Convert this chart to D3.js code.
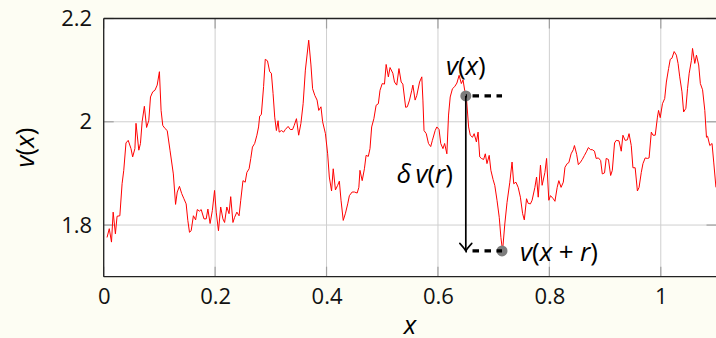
<!DOCTYPE html>
<html>
<head>
<meta charset="utf-8">
<script src="https://cdn.jsdelivr.net/npm/d3@7"></script>
<style>
  html, body { margin: 0; padding: 0; background: #fdfdf3; }
  svg { display: block; }
</style>
</head>
<body>
<div id="chart"></div>
<script>
// signal v(x)
const xValues = [
  0.006, 0.010, 0.014, 0.017, 0.021, 0.024, 0.029, 0.033, 0.036, 0.040, 0.044, 0.049, 0.052, 0.056, 0.058, 0.063,
  0.066, 0.069, 0.073, 0.077, 0.081, 0.084, 0.088, 0.092, 0.096, 0.100, 0.103, 0.106, 0.110, 0.114, 0.119, 0.125,
  0.129, 0.132, 0.136, 0.140, 0.144, 0.148, 0.151, 0.154, 0.157, 0.161, 0.165, 0.168, 0.172, 0.175,
  0.180, 0.184, 0.187, 0.191, 0.195, 0.199, 0.202, 0.206, 0.210, 0.214, 0.217, 0.221, 0.225, 0.228, 0.232, 0.235,
  0.239, 0.243, 0.246, 0.250, 0.254, 0.257, 0.261, 0.264, 0.267, 0.271, 0.275, 0.278, 0.280, 0.283, 0.287, 0.290,
  0.294, 0.298, 0.301, 0.304, 0.307, 0.310, 0.313, 0.315, 0.319, 0.323, 0.326, 0.331, 0.335, 0.339, 0.342, 0.346,
  0.350, 0.354, 0.358,
  0.362, 0.368, 0.372, 0.375, 0.379, 0.383, 0.386, 0.390, 0.393, 0.398, 0.402, 0.405, 0.409, 0.412, 0.416, 0.420,
  0.423, 0.426, 0.430, 0.434, 0.438, 0.441, 0.446, 0.450, 0.455, 0.458, 0.460, 0.464, 0.468, 0.471, 0.475, 0.478,
  0.481, 0.485, 0.489, 0.493, 0.496, 0.500, 0.504, 0.507, 0.511, 0.514, 0.519, 0.522, 0.526, 0.530, 0.534, 0.537,
  0.542, 0.545, 0.549, 0.553, 0.555, 0.559, 0.562, 0.567, 0.571, 0.573, 0.575, 0.579, 0.583, 0.587, 0.590, 0.595,
  0.598, 0.602, 0.605, 0.609, 0.612, 0.616, 0.619, 0.622, 0.626, 0.630, 0.634, 0.638, 0.642, 0.645, 0.648, 0.651,
  0.655, 0.658, 0.662, 0.665, 0.669, 0.672, 0.675, 0.678, 0.682, 0.685, 0.688, 0.692, 0.695, 0.699, 0.702, 0.706,
  0.710, 0.713, 0.716,
  0.720, 0.724, 0.729, 0.733, 0.736, 0.740, 0.744, 0.748, 0.752, 0.755, 0.759, 0.762, 0.766, 0.769, 0.774, 0.777,
  0.780, 0.784, 0.787, 0.792, 0.795, 0.799, 0.802, 0.807, 0.810, 0.814, 0.817, 0.821, 0.825, 0.828, 0.832, 0.835,
  0.839, 0.843, 0.845, 0.849, 0.852, 0.856, 0.859, 0.863, 0.867, 0.870, 0.874, 0.877, 0.881, 0.884, 0.888, 0.892,
  0.895, 0.899, 0.902, 0.906, 0.910, 0.913, 0.917, 0.920, 0.925, 0.929, 0.932, 0.936, 0.940, 0.943, 0.947, 0.950,
  0.954, 0.958, 0.961, 0.965, 0.968, 0.972, 0.976, 0.979, 0.983, 0.986, 0.990, 0.994, 0.996, 0.999, 1.003, 1.007,
  1.010, 1.014, 1.017, 1.020, 1.024, 1.028, 1.031, 1.034, 1.038, 1.041, 1.045, 1.048, 1.051, 1.055, 1.057, 1.061,
  1.064, 1.068, 1.071, 1.075, 1.079, 1.082, 1.084, 1.088, 1.092, 1.095, 1.099
];
const vValues = [
  1.776, 1.793, 1.767, 1.825, 1.783, 1.817, 1.818, 1.880, 1.906, 1.959, 1.964, 1.948, 1.932, 1.948, 1.997, 1.945,
  1.958, 2.000, 2.030, 1.989, 2.003, 2.048, 2.058, 2.061, 2.071, 2.097, 2.022, 1.993, 1.987, 1.983, 1.945, 1.899,
  1.840, 1.864, 1.875, 1.861, 1.851, 1.841, 1.809, 1.786, 1.789, 1.818, 1.810, 1.830, 1.827, 1.830,
  1.812, 1.812, 1.831, 1.803, 1.828, 1.867, 1.825, 1.789, 1.835, 1.812, 1.805, 1.835, 1.822, 1.855, 1.805, 1.815,
  1.825, 1.818, 1.848, 1.886, 1.883, 1.902, 1.909, 1.929, 1.951, 1.958, 1.974, 1.990, 2.011, 2.014, 2.068, 2.121,
  2.118, 2.097, 2.094, 2.055, 2.009, 1.983, 2.002, 1.980, 1.983, 1.980, 1.985, 1.991, 1.985, 1.985, 1.993, 2.006,
  1.974, 1.997, 2.035,
  2.100, 2.158, 2.110, 2.064, 2.051, 2.042, 2.022, 2.029, 2.000, 1.977, 1.938, 1.893, 1.866, 1.909, 1.868, 1.877,
  1.885, 1.848, 1.809, 1.823, 1.841, 1.857, 1.864, 1.864, 1.862, 1.873, 1.906, 1.886, 1.909, 1.935, 1.933, 1.948,
  1.990, 2.006, 2.032, 2.035, 2.061, 2.074, 2.073, 2.111, 2.087, 2.105, 2.094, 2.077, 2.071, 2.103, 2.077, 2.073,
  2.028, 2.029, 2.042, 2.061, 2.071, 2.042, 2.051, 2.077, 2.087, 2.042, 1.983, 1.977, 1.958, 1.952, 1.964, 1.983,
  1.990, 1.985, 1.958, 1.948, 1.958, 1.938, 2.013, 2.048, 2.064, 2.068, 2.075, 2.090, 2.074, 2.081, 2.061, 2.048,
  1.990, 1.974, 1.970, 1.977, 1.961, 1.980, 1.932, 1.929, 1.927, 1.938, 1.919, 1.935, 1.906, 1.888, 1.877, 1.848,
  1.815, 1.776, 1.750,
  1.802, 1.844, 1.883, 1.922, 1.880, 1.883, 1.873, 1.854, 1.822, 1.810, 1.851, 1.842, 1.841, 1.848, 1.873, 1.893,
  1.854, 1.916, 1.877, 1.902, 1.929, 1.848, 1.857, 1.851, 1.846, 1.873, 1.886, 1.873, 1.883, 1.912, 1.919, 1.921,
  1.938, 1.946, 1.954, 1.937, 1.917, 1.922, 1.927, 1.935, 1.943, 1.950, 1.946, 1.946, 1.943, 1.929, 1.930, 1.925,
  1.899, 1.901, 1.929, 1.927, 1.896, 1.906, 1.959, 1.964, 1.963, 1.943, 1.974, 1.964, 1.965, 1.977, 1.954, 1.911,
  1.911, 1.866, 1.873, 1.902, 1.919, 1.930, 1.929, 1.930, 1.980, 1.974, 1.974, 2.009, 2.022, 2.008, 2.035, 2.045,
  2.077, 2.103, 2.121, 2.123, 2.136, 2.129, 2.113, 2.087, 2.058, 2.019, 2.026, 2.064, 2.094, 2.119, 2.142, 2.113,
  2.129, 2.110, 2.074, 2.062, 2.022, 1.970, 1.972, 1.954, 1.958, 1.922, 1.873
];
const xTicks = [0, 0.2, 0.4, 0.6, 0.8, 1];
const xTickLabels = ["0", "0.2", "0.4", "0.6", "0.8", "1"];
const yTicks = [1.8, 2, 2.2];
const yTickLabels = ["1.8", "2", "2.2"];
// les deux points v(x) et v(x+r)
const pointX = [0.65, 0.715];
const pointV = [2.05, 1.75];

const data = xValues.map((d, i) => ({ x: d, v: vValues[i] }));

// dimensions
const width = 716, height = 338;
const plotLeft = 103.7, plotRight = 716.5, plotTop = 18.5, plotBottom = 276.7;
const font = "'Open Sans', sans-serif";

const x = d3.scaleLinear().domain([0, 1.1]).range([plotLeft, plotRight]);
const y = d3.scaleLinear().domain([1.7, 2.2]).range([plotBottom, plotTop]);

const svg = d3.select("#chart").append("svg")
    .attr("width", width)
    .attr("height", height);

svg.append("rect").attr("width", width).attr("height", height).attr("fill", "#fdfdf3");
svg.append("rect")
    .attr("x", plotLeft).attr("y", plotTop)
    .attr("width", plotRight - plotLeft).attr("height", plotBottom - plotTop)
    .attr("fill", "white");

svg.append("clipPath").attr("id", "clip")
    .append("rect")
    .attr("x", plotLeft).attr("y", plotTop)
    .attr("width", plotRight - plotLeft).attr("height", plotBottom - plotTop);

// grille
const grid = svg.append("g");
grid.selectAll(".gx").data(xTicks).enter().append("line")
    .attr("x1", d => x(d)).attr("x2", d => x(d))
    .attr("y1", plotTop).attr("y2", plotBottom)
    .attr("stroke", "#cfcfcf").attr("stroke-width", 1);
grid.selectAll(".gy").data(yTicks).enter().append("line")
    .attr("x1", plotLeft).attr("x2", plotRight)
    .attr("y1", d => y(d)).attr("y2", d => y(d))
    .attr("stroke", "#cfcfcf").attr("stroke-width", 1);

// petites graduations vers l'intérieur
const tickLen = 10;
xTicks.forEach(d => {
    grid.append("line").attr("x1", x(d)).attr("x2", x(d)).attr("y1", plotBottom).attr("y2", plotBottom - tickLen)
        .attr("stroke", "#a0a0a0").attr("stroke-width", 1.2);
    grid.append("line").attr("x1", x(d)).attr("x2", x(d)).attr("y1", plotTop).attr("y2", plotTop + tickLen)
        .attr("stroke", "#a0a0a0").attr("stroke-width", 1.2);
});
yTicks.forEach(d => {
    grid.append("line").attr("x1", plotLeft).attr("x2", plotLeft + tickLen).attr("y1", y(d)).attr("y2", y(d))
        .attr("stroke", "#a0a0a0").attr("stroke-width", 1.2);
    grid.append("line").attr("x1", plotRight).attr("x2", plotRight - tickLen).attr("y1", y(d)).attr("y2", y(d))
        .attr("stroke", "#a0a0a0").attr("stroke-width", 1.2);
});

// courbe
const line = d3.line().x(d => x(d.x)).y(d => y(d.v));
svg.append("path")
    .datum(data)
    .attr("clip-path", "url(#clip)")
    .attr("d", line)
    .attr("fill", "none")
    .attr("stroke", "#ff0000")
    .attr("stroke-width", 1)
    .attr("stroke-linejoin", "round");

// axes
const xAxis = svg.append("g")
    .attr("transform", "translate(0," + plotBottom + ")")
    .call(d3.axisBottom(x).tickValues(xTicks).tickFormat((d, i) => xTickLabels[i]).tickSize(0).tickPadding(11.5));
const yAxis = svg.append("g")
    .attr("transform", "translate(" + plotLeft + ",0)")
    .call(d3.axisLeft(y).tickValues(yTicks).tickFormat((d, i) => yTickLabels[i]).tickSize(0).tickPadding(11.5));
[xAxis, yAxis].forEach(a => {
    a.select(".domain").remove();
    a.selectAll("text").style("font-family", font).style("font-size", "22px").attr("fill", "#111");
});

// cadre
const frame = svg.append("g").attr("stroke", "#222").attr("stroke-width", 1.3);
frame.append("line").attr("x1", plotLeft).attr("x2", width).attr("y1", plotTop).attr("y2", plotTop);
frame.append("line").attr("x1", plotLeft).attr("x2", width).attr("y1", plotBottom).attr("y2", plotBottom);
frame.append("line").attr("x1", plotLeft).attr("x2", plotLeft).attr("y1", plotTop).attr("y2", plotBottom);

// titres des axes
svg.append("text")
    .attr("x", (plotLeft + plotRight) / 2).attr("y", 334)
    .attr("text-anchor", "middle")
    .style("font-family", font).style("font-size", "26px").style("font-style", "italic")
    .text("x");
const yLabel = svg.append("text")
    .attr("transform", "translate(34," + (plotTop + plotBottom) / 2 + ") rotate(-90)")
    .attr("text-anchor", "middle")
    .style("font-family", font).style("font-size", "26px");
yLabel.append("tspan").style("font-style", "italic").text("v");
yLabel.append("tspan").text("(");
yLabel.append("tspan").style("font-style", "italic").text("x");
yLabel.append("tspan").text(")");

// annotation : points, pointillés, flèche
const px1 = x(pointX[0]), py1 = y(pointV[0]);
const px2 = x(pointX[1]), py2 = y(pointV[1]);

svg.selectAll(".pt").data(pointX).enter().append("circle")
    .attr("cx", (d, i) => x(d))
    .attr("cy", (d, i) => y(pointV[i]))
    .attr("r", 5.5)
    .attr("fill", "#7d7d7d");

pointV.forEach(v => {
    svg.append("line")
        .attr("x1", px1).attr("x2", px2)
        .attr("y1", y(v)).attr("y2", y(v))
        .attr("stroke", "black").attr("stroke-width", 3.2)
        .attr("stroke-dasharray", "6.5,5.5").attr("stroke-dashoffset", 5.3);
});

svg.append("line")
    .attr("x1", px1).attr("x2", px1)
    .attr("y1", py1).attr("y2", py2 - 0.5)
    .attr("stroke", "black").attr("stroke-width", 1.7);
svg.append("path")
    .attr("d", "M" + (px1 - 6) + "," + (py2 - 7.5) + " Q" + (px1 - 1) + "," + (py2 - 2) + " " + px1 + "," + py2 +
               " Q" + (px1 + 1) + "," + (py2 - 2) + " " + (px1 + 6) + "," + (py2 - 7.5))
    .attr("fill", "none").attr("stroke", "black").attr("stroke-width", 1.6).attr("stroke-linecap", "round");

function mathLabel(xPos, yPos, anchor, parts) {
    const t = svg.append("text")
        .attr("x", xPos).attr("y", yPos)
        .attr("text-anchor", anchor)
        .style("font-family", font).style("font-size", "26px");
    parts.forEach(p => {
        t.append("tspan").style("font-style", p[1] ? "italic" : "normal").text(p[0]);
    });
}
mathLabel(px1, 75, "middle", [["v", 1], ["(", 0], ["x", 1], [")", 0]]);
mathLabel(453, 183, "end", [["δ\u2009", 1], ["v", 1], ["(", 0], ["r", 1], [")", 0]]);
mathLabel(520, 261, "start", [["v", 1], ["(", 0], ["x", 1], ["\u2005+\u2005", 0], ["r", 1], [")", 0]]);
</script>
</body>
</html>
